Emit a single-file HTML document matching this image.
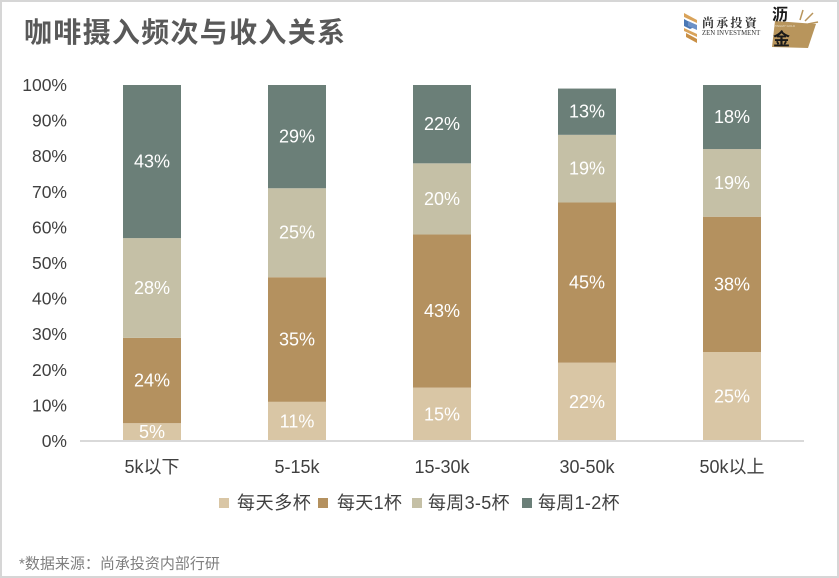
<!DOCTYPE html>
<html><head><meta charset="utf-8">
<style>
html,body{margin:0;padding:0;background:#fff;}
.wrap{position:relative;width:839px;height:578px;box-sizing:border-box;border:2px solid #d6d6d6;background:#fff;overflow:hidden;}
svg{position:absolute;left:-2px;top:-2px;}
</style></head>
<body><div class="wrap">
<svg width="839" height="578" viewBox="0 0 839 578" xmlns="http://www.w3.org/2000/svg" font-family="'Liberation Sans','Noto Sans CJK SC',sans-serif">
<!-- Title -->
<text x="24" y="42" font-size="28" font-weight="bold" fill="#595959" font-family="'Liberation Sans','Noto Sans CJK SC',sans-serif" letter-spacing="1.3">咖啡摄入频次与收入关系</text>

<!-- Logo 1 -->
<g>
<path d="M684 13 L697 20 L697 23 L684 17 Z" fill="#d9a35a"/>
<path d="M684 19 L697 26 L690 29 L684 26 Z" fill="#4a78b5"/>
<path d="M684 28 L697 34 L697 37 L684 31 Z" fill="#d9a35a"/>
<path d="M686 33 L697 39 L697 43 L686 37 Z" fill="#c98f45"/>
<path d="M688 21 L697 25 L697 30 L688 26 Z" fill="#6d92c8"/>
<text x="702" y="27" font-size="12" font-weight="bold" fill="#333" font-family="'Noto Serif CJK SC','Noto Sans CJK SC',serif" letter-spacing="2.2">尚承投資</text>
<text x="702" y="35" font-size="6.8" fill="#333" font-family="'Liberation Serif',serif">ZEN INVESTMENT</text>
</g>
<!-- Logo 2 -->
<g>
<polygon points="775,21 816,24 808,48 772,47" fill="#b8955c"/>
<line x1="800" y1="20" x2="803" y2="10" stroke="#b8955c" stroke-width="1.5"/>
<line x1="805" y1="21" x2="813" y2="13" stroke="#b8955c" stroke-width="1.5"/>
<line x1="808" y1="24" x2="818" y2="22" stroke="#b8955c" stroke-width="1.5"/>
<text x="772" y="20" font-size="16" font-weight="bold" fill="#1a1a1a" font-family="'Noto Sans CJK SC',sans-serif">沥</text>
<text x="774" y="27" font-size="3" fill="#e8dcc4">PINGMY GOLD</text>
<text x="773" y="45" font-size="17" font-weight="bold" fill="#1a1a1a" font-family="'Noto Sans CJK SC',sans-serif">金</text>
</g>

<!-- Y axis labels -->
<g font-size="17.5" fill="#404040" text-anchor="end" dominant-baseline="central">
<text x="67" y="441">0%</text>
<text x="67" y="405.4">10%</text>
<text x="67" y="369.8">20%</text>
<text x="67" y="334.2">30%</text>
<text x="67" y="298.6">40%</text>
<text x="67" y="263">50%</text>
<text x="67" y="227.4">60%</text>
<text x="67" y="191.8">70%</text>
<text x="67" y="156.2">80%</text>
<text x="67" y="120.6">90%</text>
<text x="67" y="85">100%</text>
</g>

<!-- Bars -->
<g>
<rect x="123" y="423.2" width="58" height="17.8" fill="#d9c6a5"/>
<rect x="123" y="337.8" width="58" height="85.4" fill="#b4915f"/>
<rect x="123" y="238.1" width="58" height="99.7" fill="#c5c0a6"/>
<rect x="123" y="85" width="58" height="153.1" fill="#6b7f78"/>
<rect x="268" y="401.84" width="58" height="39.16" fill="#d9c6a5"/>
<rect x="268" y="277.24" width="58" height="124.6" fill="#b4915f"/>
<rect x="268" y="188.24" width="58" height="89" fill="#c5c0a6"/>
<rect x="268" y="85" width="58" height="103.24" fill="#6b7f78"/>
<rect x="413" y="387.6" width="58" height="53.4" fill="#d9c6a5"/>
<rect x="413" y="234.52" width="58" height="153.08" fill="#b4915f"/>
<rect x="413" y="163.32" width="58" height="71.2" fill="#c5c0a6"/>
<rect x="413" y="85" width="58" height="78.32" fill="#6b7f78"/>
<rect x="558" y="362.68" width="58" height="78.32" fill="#d9c6a5"/>
<rect x="558" y="202.48" width="58" height="160.2" fill="#b4915f"/>
<rect x="558" y="134.84" width="58" height="67.64" fill="#c5c0a6"/>
<rect x="558" y="88.56" width="58" height="46.28" fill="#6b7f78"/>
<rect x="703" y="352" width="58" height="89" fill="#d9c6a5"/>
<rect x="703" y="216.72" width="58" height="135.28" fill="#b4915f"/>
<rect x="703" y="149.08" width="58" height="67.64" fill="#c5c0a6"/>
<rect x="703" y="85" width="58" height="64.08" fill="#6b7f78"/>
</g>

<!-- axis line -->
<line x1="80" y1="441" x2="804" y2="441" stroke="#d9d9d9" stroke-width="2"/>

<!-- data labels -->
<g font-size="18" fill="#ffffff" text-anchor="middle" dominant-baseline="central">
<text x="152" y="432">5%</text>
<text x="152" y="380.5">24%</text>
<text x="152" y="288">28%</text>
<text x="152" y="161.5">43%</text>
<text x="297" y="421.4">11%</text>
<text x="297" y="339.5">35%</text>
<text x="297" y="232.7">25%</text>
<text x="297" y="136.6">29%</text>
<text x="442" y="414.3">15%</text>
<text x="442" y="311">43%</text>
<text x="442" y="198.9">20%</text>
<text x="442" y="124.2">22%</text>
<text x="587" y="401.8">22%</text>
<text x="587" y="282.6">45%</text>
<text x="587" y="168.7">19%</text>
<text x="587" y="111.7">13%</text>
<text x="732" y="396.5">25%</text>
<text x="732" y="284.4">38%</text>
<text x="732" y="182.9">19%</text>
<text x="732" y="117">18%</text>
</g>

<!-- x labels -->
<g font-size="18" fill="#404040" text-anchor="middle" dominant-baseline="central">
<text x="152" y="467">5k以下</text>
<text x="297" y="467">5-15k</text>
<text x="442" y="467">15-30k</text>
<text x="587" y="467">30-50k</text>
<text x="732" y="467">50k以上</text>
</g>

<!-- legend -->
<g font-size="18" fill="#404040" dominant-baseline="central">
<rect x="219" y="498" width="10" height="10" fill="#d9c6a5"/>
<text x="237" y="503" letter-spacing="0.6">每天多杯</text>
<rect x="318" y="498" width="10" height="10" fill="#b4915f"/>
<text x="337" y="503" letter-spacing="0.3">每天1杯</text>
<rect x="412" y="498" width="10" height="10" fill="#c5c0a6"/>
<text x="428" y="503" letter-spacing="0.3">每周3-5杯</text>
<rect x="522" y="498" width="10" height="10" fill="#6b7f78"/>
<text x="538" y="503" letter-spacing="0.3">每周1-2杯</text>
</g>

<!-- footnote -->
<text x="19" y="564" font-size="15" fill="#7f7f7f" dominant-baseline="central">*数据来源：尚承投资内部行研</text>
</svg>
</div></body></html>
